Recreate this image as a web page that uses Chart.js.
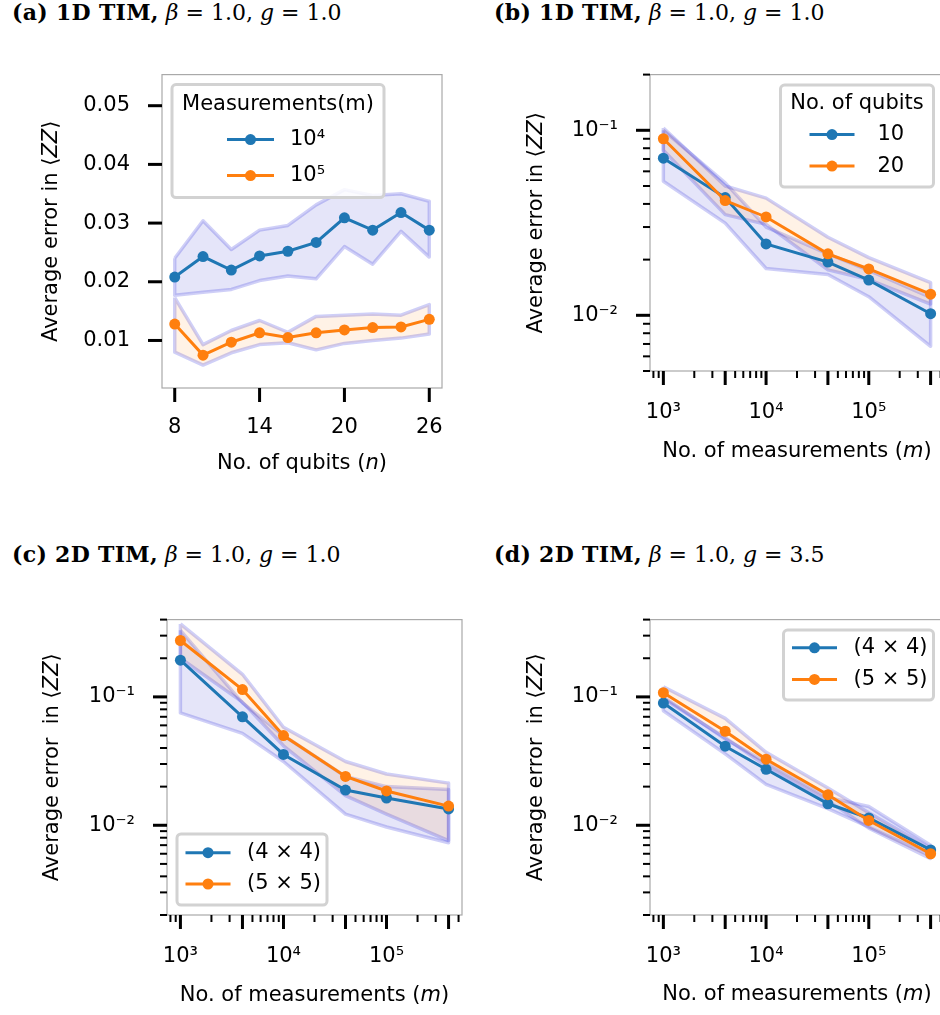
<!DOCTYPE html>
<html>
<head>
<meta charset="utf-8">
<script src="https://cdn.jsdelivr.net/npm/chart.js@4.4.1/dist/chart.umd.min.js"></script>
<style>
  html, body { margin: 0; padding: 0; width: 940px; height: 1015px; overflow: hidden; background: #fff; }
  canvas { position: absolute; }
  .ptitle { position: absolute; font-family: 'DejaVu Serif', serif; font-size: 22px; line-height: 26px; white-space: nowrap; color: #000; }
  .ptitle b { font-weight: bold; letter-spacing: 0.3px; }
  .ptitle i { font-style: italic; }
</style>
</head>
<body>
<div class="ptitle" style="left:12px; top:-1px"><b>(a) 1D TIM,</b> <i>β</i> = 1.0, <i>g</i> = 1.0</div>
<div class="ptitle" style="left:494px; top:-1px"><b>(b) 1D TIM,</b> <i>β</i> = 1.0, <i>g</i> = 1.0</div>
<div class="ptitle" style="left:12px; top:541px"><b>(c) 2D TIM,</b> <i>β</i> = 1.0, <i>g</i> = 1.0</div>
<div class="ptitle" style="left:494px; top:541px"><b>(d) 2D TIM,</b> <i>β</i> = 1.0, <i>g</i> = 3.5</div>

<canvas id="chartA" width="470" height="460" style="left:0; top:30px"></canvas>
<canvas id="chartB" width="490" height="460" style="left:470px; top:30px"></canvas>
<canvas id="chartC" width="470" height="440" style="left:0; top:575px"></canvas>
<canvas id="chartD" width="490" height="440" style="left:470px; top:575px"></canvas>

<script>
// ---- data ----
const qubits = [8, 10, 12, 14, 16, 18, 20, 22, 24, 26];
const measurements = [1000, 4000, 10000, 40000, 100000, 400000];

// (a) 1D TIM vs. number of qubits
const aErr1e4 = [0.0208, 0.0243, 0.0220, 0.0244, 0.0252, 0.0267, 0.0309, 0.0288, 0.0318, 0.0288];
const aErr1e4Hi = [0.0240, 0.0304, 0.0255, 0.0288, 0.0296, 0.0331, 0.0357, 0.0347, 0.0350, 0.0337];
const aErr1e4Lo = [0.0177, 0.0182, 0.0187, 0.0202, 0.0210, 0.0205, 0.0260, 0.0230, 0.0286, 0.0242];
const aErr1e5 = [0.0128, 0.0075, 0.0097, 0.0113, 0.0105, 0.0113, 0.0118, 0.0122, 0.0123, 0.0136];
const aErr1e5Hi = [0.0173, 0.0093, 0.0117, 0.0134, 0.0114, 0.0141, 0.0143, 0.0145, 0.0143, 0.0161];
const aErr1e5Lo = [0.0080, 0.0058, 0.0079, 0.0093, 0.0096, 0.0084, 0.0095, 0.0100, 0.0104, 0.0111];

// (b) 1D TIM vs. number of measurements
const bErr10 = [0.0707, 0.0433, 0.0243, 0.0194, 0.0155, 0.0102];
const bErr10Hi = [0.100, 0.052, 0.030, 0.0215, 0.0175, 0.0125];
const bErr10Lo = [0.053, 0.0315, 0.0179, 0.0166, 0.0126, 0.0068];
const bErr20 = [0.090, 0.0417, 0.0340, 0.0215, 0.0178, 0.0130];
const bErr20Hi = [0.103, 0.050, 0.043, 0.0264, 0.0205, 0.0150];
const bErr20Lo = [0.078, 0.035, 0.031, 0.0176, 0.0156, 0.0115];

// (c) 2D TIM, g = 1.0
const cErr4x4 = [0.193, 0.070, 0.0356, 0.0188, 0.0163, 0.0134];
const cErr4x4Hi = [0.33, 0.090, 0.050, 0.024, 0.020, 0.019];
const cErr4x4Lo = [0.075, 0.052, 0.0314, 0.0122, 0.0097, 0.0073];
const cErr5x5 = [0.275, 0.114, 0.050, 0.0240, 0.0185, 0.0141];
const cErr5x5Hi = [0.37, 0.150, 0.058, 0.0314, 0.0251, 0.0213];
const cErr5x5Lo = [0.20, 0.091, 0.0416, 0.017, 0.0122, 0.0076];

// (d) 2D TIM, g = 3.5
const dErr4x4 = [0.0895, 0.0413, 0.0273, 0.0147, 0.0114, 0.00643];
const dErr4x4Hi = [0.100, 0.047, 0.031, 0.0165, 0.0140, 0.0070];
const dErr4x4Lo = [0.078, 0.036, 0.0208, 0.0135, 0.0097, 0.0058];
const dErr5x5 = [0.1077, 0.054, 0.0327, 0.0173, 0.0109, 0.0060];
const dErr5x5Hi = [0.120, 0.068, 0.037, 0.0195, 0.0125, 0.0066];
const dErr5x5Lo = [0.097, 0.048, 0.029, 0.0155, 0.0095, 0.0055];

// tick values
const qubitTicks = [8, 14, 20, 26];
const linErrTicks = [0.01, 0.02, 0.03, 0.04, 0.05];
const decadeX = [1e3, 1e4, 1e5];
const decadeY = [0.01, 0.1];
const measMinor = [800, 900, 2000, 3000, 5000, 6000, 7000, 8000, 9000,
  20000, 30000, 50000, 60000, 70000, 80000, 90000, 200000, 300000, 500000];
const errMinor = [0.002, 0.003, 0.004, 0.005, 0.006, 0.007, 0.008, 0.009,
  0.02, 0.03, 0.04, 0.05, 0.06, 0.07, 0.08, 0.09, 0.2, 0.3, 0.4];

// ---- style ----
const FONT = "'DejaVu Sans', sans-serif";
const FS = 21;
const BLUE = '#1f77b4';
const ORANGE = '#ff7f0e';
const BAND_EDGE = 'rgba(0, 0, 210, 0.19)';
const BLUE_FILL = 'rgba(0, 0, 200, 0.10)';
const ORANGE_FILL = 'rgba(255, 127, 14, 0.10)';

const SUP = { '-': '⁻', '0': '⁰', '1': '¹', '2': '²', '3': '³', '4': '⁴', '5': '⁵', '6': '⁶', '7': '⁷', '8': '⁸', '9': '⁹' };
const pow10 = (v) => '10' + String(Math.round(Math.log10(v))).split('').map((c) => SUP[c]).join('');

function pts(xs, ys) {
  return xs.map((x, i) => ({ x, y: ys[i] }));
}

// closed outline: upper edge left->right, lower edge right->left
function bandShape(xs, lo, hi) {
  const up = xs.map((x, i) => ({ x, y: hi[i] }));
  const down = xs.map((x, i) => ({ x, y: lo[i] })).reverse();
  return up.concat(down, [up[0]]);
}

function series(label, color, xs, ys, order) {
  return {
    label, data: pts(xs, ys), inLegend: true,
    borderColor: color, backgroundColor: color, borderWidth: 3,
    pointRadius: 5.5, pointHoverRadius: 5.5, pointBorderWidth: 0, pointBackgroundColor: color,
    tension: 0, fill: false, order,
  };
}

function band(xs, lo, hi, fillColor, order) {
  return {
    label: '', data: bandShape(xs, lo, hi),
    borderColor: BAND_EDGE, backgroundColor: fillColor, borderWidth: 3.5,
    borderJoinStyle: 'round', pointRadius: 0, pointHoverRadius: 0,
    tension: 0, fill: 'shape', order,
  };
}

// parse "text *italic* text" into segments
function segs(str) {
  return str.split('*').map((t, i) => ({ t, it: i % 2 === 1 })).filter((s) => s.t);
}

function drawRich(ctx, parts, cx, cy, angle) {
  ctx.save();
  ctx.translate(cx, cy);
  ctx.rotate(angle);
  ctx.textBaseline = 'middle';
  ctx.textAlign = 'left';
  ctx.fillStyle = '#000';
  const fonts = parts.map((s) => (s.it ? 'italic ' : '') + FS + 'px ' + FONT);
  let total = 0;
  const widths = parts.map((s, i) => {
    ctx.font = fonts[i];
    const w = ctx.measureText(s.t).width;
    total += w;
    return w;
  });
  let x = -total / 2;
  parts.forEach((s, i) => {
    ctx.font = fonts[i];
    ctx.fillText(s.t, x, 0);
    x += widths[i];
  });
  ctx.restore();
}

// ---- plugins ----
const framePlugin = {
  id: 'frame',
  afterDatasetsDraw(chart) {
    const { ctx, chartArea: a } = chart;
    ctx.save();
    ctx.strokeStyle = '#a9a9a9';
    ctx.lineWidth = 1.2;
    ctx.strokeRect(a.left, a.top, a.right - a.left, a.bottom - a.top);
    ctx.restore();
  },
};

const tickMarksPlugin = {
  id: 'tickMarks',
  afterDraw(chart, args, opts) {
    const { ctx, chartArea: a, scales } = chart;
    ctx.save();
    ctx.strokeStyle = '#000';
    const draw = (axis, values, len, width) => {
      const s = scales[axis];
      ctx.lineWidth = width;
      values.forEach((v) => {
        const p = s.getPixelForValue(v);
        ctx.beginPath();
        if (axis === 'x') {
          if (p < a.left - 1 || p > a.right + 1) return;
          ctx.moveTo(p, a.bottom);
          ctx.lineTo(p, a.bottom + len);
        } else {
          if (p < a.top - 1 || p > a.bottom + 1) return;
          ctx.moveTo(a.left - len, p);
          ctx.lineTo(a.left, p);
        }
        ctx.stroke();
      });
    };
    ['x', 'y'].forEach((axis) => {
      const o = opts[axis];
      if (!o) return;
      draw(axis, o.minor || [], 7, 2);
      draw(axis, o.major || [], 14, 3);
    });
    ctx.restore();
  },
};

const axisTitlesPlugin = {
  id: 'axisTitles',
  afterDraw(chart, args, opts) {
    const { ctx, chartArea: a } = chart;
    if (opts.x) drawRich(ctx, segs(opts.x.text), (a.left + a.right) / 2, a.bottom + opts.x.offset, 0);
    if (opts.y) drawRich(ctx, segs(opts.y.text), a.left - opts.y.offset, (a.top + a.bottom) / 2, -Math.PI / 2);
  },
};

const boxLegendPlugin = {
  id: 'boxLegend',
  afterDraw(chart, args, o) {
    if (!o.w) return;
    const { ctx, chartArea: a } = chart;
    const x = o.corner.includes('r') ? a.right - o.inset - o.w : a.left + o.inset;
    const y = o.corner.includes('b') ? a.bottom - o.inset - o.h : a.top + o.inset;
    ctx.save();
    ctx.beginPath();
    ctx.roundRect(x, y, o.w, o.h, 4);
    ctx.fillStyle = 'rgba(255,255,255,0.85)';
    ctx.fill();
    ctx.lineWidth = 3;
    ctx.strokeStyle = '#d2d2d2';
    ctx.stroke();
    ctx.fillStyle = '#000';
    ctx.font = FS + 'px ' + FONT;
    ctx.textBaseline = 'middle';
    if (o.title) {
      ctx.textAlign = 'center';
      ctx.fillText(o.title, x + o.w / 2, y + o.titleDy);
    }
    ctx.textAlign = 'left';
    const items = chart.data.datasets.filter((d) => d.inLegend);
    items.forEach((d, i) => {
      const ry = y + o.rowDy[i];
      const hx = x + o.handleDx;
      ctx.strokeStyle = d.borderColor;
      ctx.lineWidth = 3;
      ctx.beginPath();
      ctx.moveTo(hx, ry);
      ctx.lineTo(hx + o.handleLen, ry);
      ctx.stroke();
      ctx.fillStyle = d.borderColor;
      ctx.beginPath();
      ctx.arc(hx + o.handleLen / 2, ry, 5.5, 0, Math.PI * 2);
      ctx.fill();
      ctx.fillStyle = '#000';
      ctx.fillText(d.label, x + o.textDx, ry);
    });
    ctx.restore();
  },
};

// ---- chart factory ----
// The y axis fills everything left of the plot box and the x axis everything
// below it, so the plot box lands exactly on `area` (page coordinates).
function makePanel(id, area, spec) {
  const canvas = document.getElementById(id);
  const cx = parseFloat(canvas.style.left) || 0;
  const cy = parseFloat(canvas.style.top) || 0;
  const yAxisWidth = area.left - cx;
  const xAxisHeight = cy + canvas.height - area.bottom;
  const padding = {
    left: 0,
    top: area.top - cy,
    right: cx + canvas.width - area.right,
    bottom: 0,
  };
  const tickFont = { family: FONT, size: FS };
  const axis = (s, isX) => ({
    type: s.type, min: s.min, max: s.max,
    afterFit: (scale) => { if (isX) scale.height = xAxisHeight; else scale.width = yAxisWidth; },
    afterBuildTicks: (scale) => { scale.ticks = s.labels.map((v) => ({ value: v })); },
    ticks: {
      autoSkip: false, maxRotation: 0, minRotation: 0, color: '#000', font: tickFont,
      padding: isX ? s.pad : 32,
      callback: (v) => s.fmt(v),
    },
    grid: { display: false, drawTicks: false },
    border: { display: false },
  });
  return new Chart(canvas, {
    type: 'line',
    data: { datasets: spec.datasets },
    options: {
      responsive: false,
      animation: false,
      events: [],
      layout: { padding },
      plugins: {
        legend: { display: false },
        tooltip: { enabled: false },
        tickMarks: spec.marks,
        axisTitles: spec.titles,
        boxLegend: spec.legend,
      },
      scales: { x: axis(spec.x, true), y: axis(spec.y, false) },
    },
    plugins: [framePlugin, tickMarksPlugin, axisTitlesPlugin, boxLegendPlugin],
  });
}

const logX = { type: 'logarithmic', min: 741, max: 540000, labels: decadeX, fmt: pow10, pad: 29 };
const yTitle = 'Average error in ⟨*ZZ*⟩';
const yTitle2 = 'Average error  in ⟨*ZZ*⟩';
const xTitleM = 'No. of measurements (*m*)';

makePanel('chartA', { left: 162, top: 54, right: 462, bottom: 388 }, {
  x: { type: 'linear', min: 7.1, max: 26.9, labels: qubitTicks, fmt: (v) => String(v), pad: 27 },
  y: { type: 'linear', min: 0.0019, max: 0.0553, labels: linErrTicks, fmt: (v) => v.toFixed(2) },
  datasets: [
    series('10⁴', BLUE, qubits, aErr1e4, 1),
    series('10⁵', ORANGE, qubits, aErr1e5, 0),
    band(qubits, aErr1e5Lo, aErr1e5Hi, ORANGE_FILL, 2),
    band(qubits, aErr1e4Lo, aErr1e4Hi, BLUE_FILL, 3),
  ],
  marks: { x: { major: qubitTicks }, y: { major: linErrTicks } },
  titles: { x: { text: 'No. of qubits (*n*)', offset: 76 }, y: { text: yTitle, offset: 110 } },
  legend: { corner: 'tl', inset: 10, w: 212, h: 113, title: 'Measurements(m)', titleDy: 19.5,
    rowDy: [55, 91], handleDx: 55, handleLen: 47, textDx: 118 },
});

makePanel('chartB', { left: 650, top: 54, right: 944, bottom: 371 }, {
  x: logX,
  y: { type: 'logarithmic', min: 0.005, max: 0.2, labels: decadeY, fmt: pow10 },
  datasets: [
    series('10', BLUE, measurements, bErr10, 1),
    series('20', ORANGE, measurements, bErr20, 0),
    band(measurements, bErr20Lo, bErr20Hi, ORANGE_FILL, 2),
    band(measurements, bErr10Lo, bErr10Hi, BLUE_FILL, 3),
  ],
  marks: { x: { major: measurements, minor: measMinor }, y: { major: decadeY, minor: errMinor } },
  titles: { x: { text: xTitleM, offset: 81 }, y: { text: yTitle, offset: 113 } },
  legend: { corner: 'tr', inset: 10.5, w: 153, h: 102, title: 'No. of qubits', titleDy: 18.5,
    rowDy: [49.5, 81], handleDx: 29, handleLen: 45, textDx: 97 },
});

makePanel('chartC', { left: 167, top: 598, right: 462, bottom: 915 }, {
  x: logX,
  y: { type: 'logarithmic', min: 0.002, max: 0.4, labels: decadeY, fmt: pow10 },
  datasets: [
    series('(4 × 4)', BLUE, measurements, cErr4x4, 1),
    series('(5 × 5)', ORANGE, measurements, cErr5x5, 0),
    band(measurements, cErr5x5Lo, cErr5x5Hi, ORANGE_FILL, 2),
    band(measurements, cErr4x4Lo, cErr4x4Hi, BLUE_FILL, 3),
  ],
  marks: { x: { major: measurements, minor: measMinor }, y: { major: decadeY, minor: errMinor } },
  titles: { x: { text: xTitleM, offset: 81 }, y: { text: yTitle2, offset: 114 } },
  legend: { corner: 'bl', inset: 10, w: 150, h: 71, rowDy: [18.7, 50], handleDx: 8.5, handleLen: 45, textDx: 70 },
});

makePanel('chartD', { left: 650, top: 598, right: 944, bottom: 915 }, {
  x: logX,
  y: { type: 'logarithmic', min: 0.002, max: 0.4, labels: decadeY, fmt: pow10 },
  datasets: [
    series('(4 × 4)', BLUE, measurements, dErr4x4, 1),
    series('(5 × 5)', ORANGE, measurements, dErr5x5, 0),
    band(measurements, dErr5x5Lo, dErr5x5Hi, ORANGE_FILL, 2),
    band(measurements, dErr4x4Lo, dErr4x4Hi, BLUE_FILL, 3),
  ],
  marks: { x: { major: measurements, minor: measMinor }, y: { major: decadeY, minor: errMinor } },
  titles: { x: { text: xTitleM, offset: 80 }, y: { text: yTitle2, offset: 113 } },
  legend: { corner: 'tr', inset: 10.5, w: 150, h: 70, rowDy: [17.7, 49.3], handleDx: 8.5, handleLen: 45, textDx: 70 },
});
</script>
</body>
</html>
